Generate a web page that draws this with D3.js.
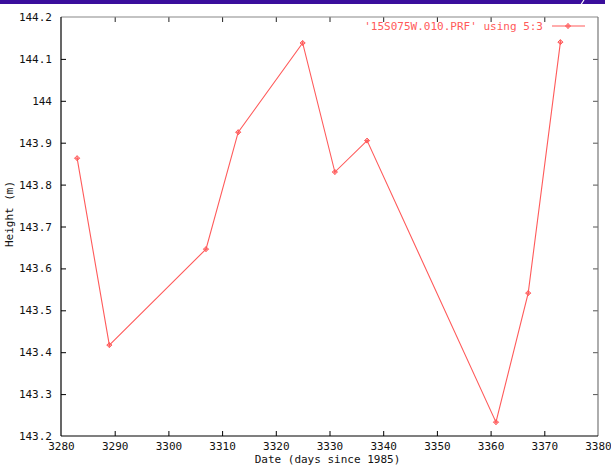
<!DOCTYPE html>
<html><head><meta charset="utf-8">
<script src="https://cdn.jsdelivr.net/npm/d3@7"></script>
<style>html,body{margin:0;padding:0;background:#fff;}svg{display:block;}</style>
</head><body>
<script>
const dates = [3283, 3289, 3307, 3313, 3325, 3331, 3337, 3361, 3367, 3373];
const heights = [143.863, 143.417, 143.646, 143.925, 144.138, 143.830, 143.905, 143.233, 143.541, 144.140];
const xTicks = [3280, 3290, 3300, 3310, 3320, 3330, 3340, 3350, 3360, 3370, 3380];
const yTicks = [143.2, 143.3, 143.4, 143.5, 143.6, 143.7, 143.8, 143.9, 144, 144.1, 144.2];
const seriesLabel = "'15S075W.010.PRF' using 5:3";
const xTitle = "Date (days since 1985)";
const yTitle = "Height (m)";

const W = 611, H = 467;
const L = 61, R = 598, T = 17, B = 436;
const font = "'DejaVu Sans Mono', monospace";
const fs = "11px";
const red = "#ff5a5a";

const svg = d3.select("body").append("svg").attr("width", W).attr("height", H);
svg.append("rect").attr("width", W).attr("height", H).attr("fill", "#fff");

// top banner
svg.append("rect").attr("x", 0).attr("y", 0).attr("width", 605).attr("height", 4).attr("fill", "#3a0e9c");
svg.append("line").attr("x1", 581).attr("y1", 4.5).attr("x2", 584).attr("y2", 0).attr("stroke", "#fff").attr("stroke-width", 1.2);

const x = d3.scaleLinear().domain([3280, 3380]).range([L, R]);
const y = d3.scaleLinear().domain([143.2, 144.2]).range([B, T]);

const fmtY = d => String(+d.toFixed(1));
const gB = svg.append("g").attr("transform", `translate(0,${B})`)
  .call(d3.axisBottom(x).tickValues(xTicks).tickSizeInner(-5).tickSizeOuter(0).tickPadding(8).tickFormat(d3.format("d")));
const gT = svg.append("g").attr("transform", `translate(0,${T})`)
  .call(d3.axisTop(x).tickValues(xTicks).tickSizeInner(-5).tickSizeOuter(0).tickFormat(""));
const gL = svg.append("g").attr("transform", `translate(${L},0)`)
  .call(d3.axisLeft(y).tickValues(yTicks).tickSizeInner(-5).tickSizeOuter(0).tickPadding(9).tickFormat(fmtY));
const gR = svg.append("g").attr("transform", `translate(${R},0)`)
  .call(d3.axisRight(y).tickValues(yTicks).tickSizeInner(-5).tickSizeOuter(0).tickFormat(""));

[gB, gT, gL, gR].forEach(g => {
  g.select(".domain").remove();
  g.selectAll("text").attr("font-family", font).attr("font-size", fs).attr("fill", "#111");
});
gB.selectAll(".tick line").attr("stroke", "#000");
gL.selectAll(".tick line").attr("stroke", "#000");
gT.selectAll(".tick line").attr("stroke", "#222");
gR.selectAll(".tick line").attr("stroke", "#555");
gB.selectAll("text").attr("dy", "0.5em");
[gB, gT].forEach(g => g.selectAll(".tick").filter(d => d === 3280 || d === 3380).select("line").remove());
[gL, gR].forEach(g => g.selectAll(".tick").filter(d => d === 143.2 || d === 144.2).select("line").remove());

// frame
svg.append("line").attr("x1", L).attr("y1", T).attr("x2", R).attr("y2", T).attr("stroke", "#888").attr("stroke-width", 1.2);
svg.append("line").attr("x1", R).attr("y1", T).attr("x2", R).attr("y2", B).attr("stroke", "#777").attr("stroke-width", 1.2);
svg.append("line").attr("x1", L).attr("y1", T).attr("x2", L).attr("y2", B).attr("stroke", "#000").attr("stroke-width", 1.2);
svg.append("line").attr("x1", L).attr("y1", B).attr("x2", R).attr("y2", B).attr("stroke", "#000").attr("stroke-width", 1.2);

// titles
svg.append("text").attr("x", (L + R) / 2 - 2).attr("y", 463).attr("text-anchor", "middle")
  .attr("font-family", font).attr("font-size", fs).attr("fill", "#111").text(xTitle);
svg.append("text").attr("transform", `translate(13,214) rotate(-90)`).attr("text-anchor", "middle")
  .attr("font-family", font).attr("font-size", fs).attr("fill", "#111").text(yTitle);

// series
const pts = dates.map((d, i) => [d, heights[i]]);
svg.append("path").datum(pts)
  .attr("d", d3.line().x(d => x(d[0])).y(d => y(d[1])))
  .attr("fill", "none").attr("stroke", red).attr("stroke-width", 1.1);

function marker(g, cx, cy) {
  const r = 2.5;
  g.append("path")
    .attr("d", `M${cx-r},${cy}L${cx},${cy-r}L${cx+r},${cy}L${cx},${cy+r}Z M${cx-r},${cy}H${cx+r} M${cx},${cy-r}V${cy+r}`)
    .attr("fill", "none").attr("stroke", red).attr("stroke-width", 1);
}
const mg = svg.append("g");
pts.forEach(p => marker(mg, x(p[0]), y(p[1])));

// legend
svg.append("text").attr("x", 543).attr("y", 29.5).attr("text-anchor", "end")
  .attr("font-family", font).attr("font-size", fs).attr("fill", red).text(seriesLabel);
svg.append("line").attr("x1", 552).attr("y1", 26).attr("x2", 585).attr("y2", 26).attr("stroke", red).attr("stroke-width", 1.1);
marker(svg, 568, 26);
</script>
</body></html>
